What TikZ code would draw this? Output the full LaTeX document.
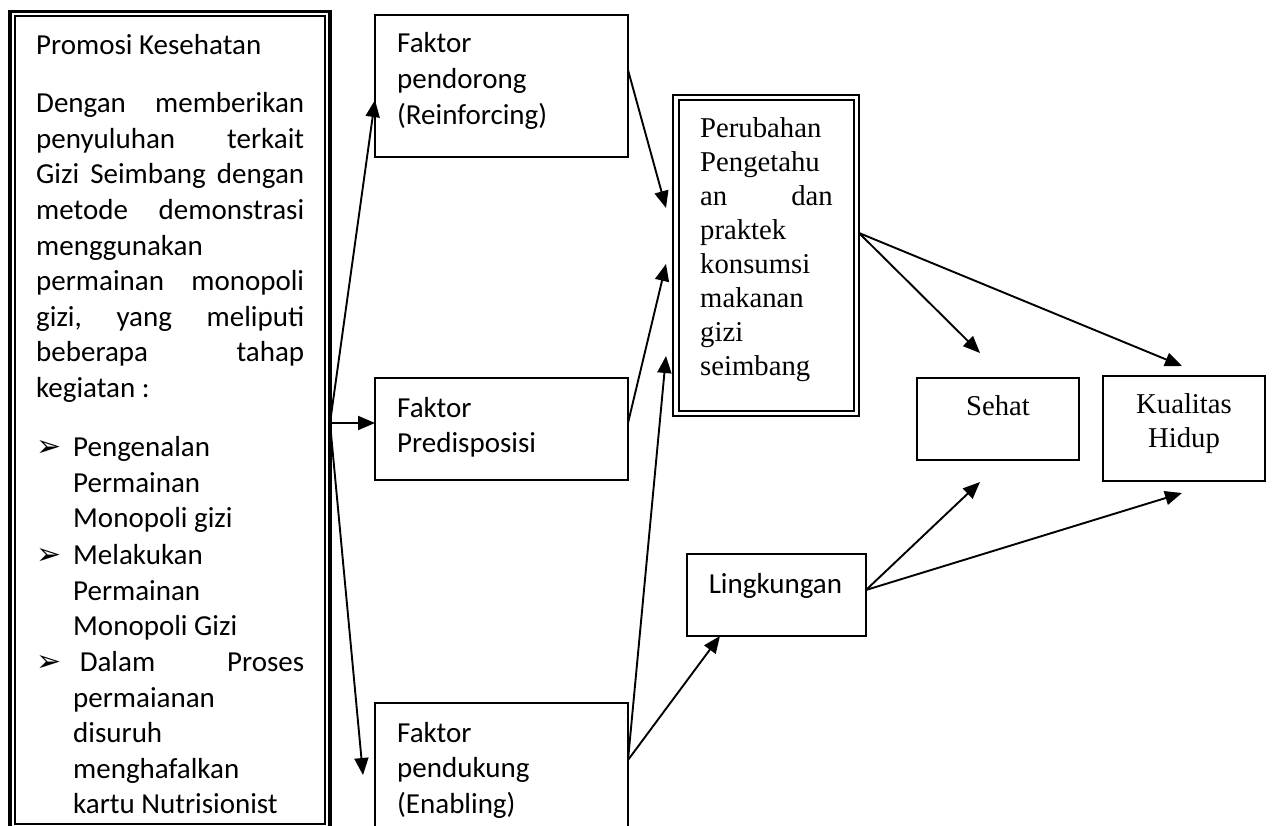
\documentclass[tikz,border=0pt]{standalone}
\usepackage{fontspec}
\setmainfont{Carlito}
\newfontfamily\timesfont{Liberation Serif}
\newfontfamily\dingfont{DejaVu Sans}
\usetikzlibrary{arrows.meta}

\begin{document}
\begin{tikzpicture}[x=1pt,y=-1pt,
  frame/.style={draw,line width=1.6pt,inner sep=0pt,outer sep=0pt,anchor=north west},
  txt/.style={anchor=base west,inner sep=0pt,font=\fontsize{29}{35.6}\selectfont},
  serif/.style={anchor=base,inner sep=0pt,font=\timesfont\fontsize{28.7}{34}\selectfont},
  bullet/.style={anchor=base west,inner sep=0pt,font=\dingfont\fontsize{30}{30}\selectfont},
  link/.style={-{Triangle[length=17pt,width=14pt]},line width=1.9pt}]
  \useasboundingbox (0,0) rectangle (1272,826);

  % Promosi kesehatan (box runs off the page)
  \node[frame,line width=3.2pt,minimum width=320pt,minimum height=900pt] (promo) at (10,11.7) {};
  \draw[line width=1.9pt] ([shift={(5pt,-4.1pt)}]promo.north west) rectangle (325,824);
  \begin{scope}
    \clip (15,16) rectangle (325,815.5);
    \node[txt] (judul) at (36,55) {Promosi Kesehatan};
    \node[txt] (uraian) at (36,112.7) {\parbox[t]{268pt}{Dengan\hfill memberikan\\
      penyuluhan\hfill terkait\\Gizi\hfill Seimbang\hfill dengan\\metode\hfill demonstrasi\\
      menggunakan\\permainan\hfill monopoli\\gizi,\hfill yang\hfill meliputi\\
      beberapa\hfill tahap\\kegiatan :}};
    \node[bullet] (tanda1) at (36,456.7) {➢};
    \node[txt] (tahap1) at (73,456.7) {\parbox[t]{231pt}{Pengenalan\\Permainan\\Monopoli gizi}};
    \node[bullet] (tanda2) at (36,564.5) {➢};
    \node[txt] (tahap2) at (73,564.5) {\parbox[t]{231pt}{Melakukan\\Permainan\\Monopoli Gizi}};
    \node[bullet] (tanda3) at (36,671.5) {➢};
    \node[txt] (tahap3) at (73,671.5) {\parbox[t]{231pt}{\mbox{} Dalam\hfill Proses\\
      permaianan\\disuruh\\menghafalkan\\kartu Nutrisionist}};
  \end{scope}

  % Faktor
  \node[frame,minimum width=253pt,minimum height=142pt] (pendorong) at (375,15) {};
  \node[txt] (pendorongtxt) at (397,53) {\parbox[t]{220pt}{Faktor\\pendorong\\(Reinforcing)}};
  \node[frame,minimum width=253pt,minimum height=102pt] (predisposisi) at (375,378) {};
  \node[txt] (predisposisitxt) at (397,417) {\parbox[t]{220pt}{Faktor\\Predisposisi}};
  \node[frame,minimum width=253pt,minimum height=160pt] (pendukung) at (375,703) {};
  \node[txt] (pendukungtxt) at (397,742) {\parbox[t]{220pt}{Faktor\\pendukung\\(Enabling)}};

  % Perubahan
  \node[frame,line width=2pt,minimum width=186pt,minimum height=321pt] (perubahan) at (673,95) {};
  \draw[line width=2pt] ([shift={(5.5pt,-5.5pt)}]perubahan.north west) rectangle ([shift={(-5.5pt,5.5pt)}]perubahan.south east);
  \node[serif,anchor=base west] (perubahantxt) at (700,138) {\parbox[t]{132.5pt}{Perubahan\\Pengetahu\\an\hfill dan\\
    praktek\\konsumsi\\makanan\\gizi\\seimbang}};

  % Lingkungan, hasil
  \node[frame,minimum width=179pt,minimum height=82pt] (lingkungan) at (687,554) {};
  \node[txt] (lingkungantxt) at (708.6,593) {Lingkungan};
  \node[frame,minimum width=162pt,minimum height=82pt] (sehat) at (917,378) {};
  \node[serif] (sehattxt) at (998,415) {Sehat};
  \node[frame,minimum width=162pt,minimum height=105pt] (kualitas) at (1103,376) {};
  \node[serif] (kualitastxt) at (1184,413) {\parbox[t]{150pt}{\centering Kualitas\\Hidup}};

  % Arrows
  \coordinate (fork) at (promo.east |- 0,423);
  \coordinate (enabtip) at (363,775);
  \coordinate (masuk1) at (666,208);
  \coordinate (masuk2) at (666,264);
  \coordinate (masuk3) at (666,356);
  \draw[link] (fork) -- (pendorong.west |- 0,100);
  \draw[link] (fork) -- (predisposisi.west |- fork);
  \draw[link] (fork) -- (enabtip);
  \draw[link] (pendorong.east |- 0,70) -- (masuk1);
  \draw[link] (predisposisi.east |- fork) -- (masuk2);
  \draw[link] (pendukung.east |- 0,760) -- (masuk3);
  \draw[link] (pendukung.east |- 0,760) -- (lingkungan.south west -| 720,0);
  \draw[link] (perubahan.east |- 0,233) -- ([xshift=-18pt,yshift=25pt]sehat.north);
  \draw[link] (perubahan.east |- 0,233) -- ([xshift=-2pt,yshift=10pt]kualitas.north);
  \draw[link] (lingkungan.east |- 0,590) -- ([xshift=-18pt,yshift=-22pt]sehat.south);
  \draw[link] (lingkungan.east |- 0,590) -- ([xshift=-2pt,yshift=-12pt]kualitas.south);
\end{tikzpicture}
\end{document}
